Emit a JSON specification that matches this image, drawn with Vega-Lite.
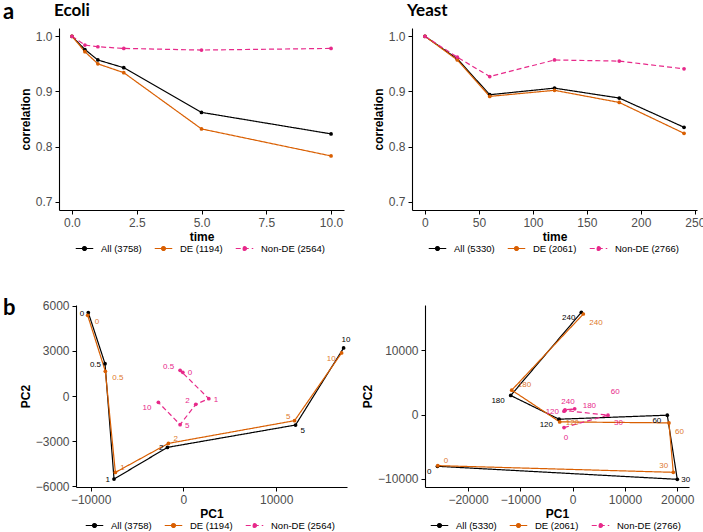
{
  "$schema": "https://vega.github.io/schema/vega-lite/v6.json",
  "padding": {"left": 3, "top": 1, "right": 0, "bottom": 2},
  "datasets": {
    "ecoliCorr": [
      {"series": "All (3758)", "time": 0, "value": 1.0},
      {"series": "All (3758)", "time": 0.5, "value": 0.976},
      {"series": "All (3758)", "time": 1, "value": 0.957},
      {"series": "All (3758)", "time": 2, "value": 0.943},
      {"series": "All (3758)", "time": 5, "value": 0.862},
      {"series": "All (3758)", "time": 10, "value": 0.823},
      {"series": "DE (1194)", "time": 0, "value": 1.0},
      {"series": "DE (1194)", "time": 0.5, "value": 0.972},
      {"series": "DE (1194)", "time": 1, "value": 0.950},
      {"series": "DE (1194)", "time": 2, "value": 0.934},
      {"series": "DE (1194)", "time": 5, "value": 0.832},
      {"series": "DE (1194)", "time": 10, "value": 0.783},
      {"series": "Non-DE (2564)", "time": 0, "value": 1.0},
      {"series": "Non-DE (2564)", "time": 0.5, "value": 0.984},
      {"series": "Non-DE (2564)", "time": 1, "value": 0.981},
      {"series": "Non-DE (2564)", "time": 2, "value": 0.978},
      {"series": "Non-DE (2564)", "time": 5, "value": 0.975},
      {"series": "Non-DE (2564)", "time": 10, "value": 0.978}
    ],
    "yeastCorr": [
      {"series": "All (5330)", "time": 0, "value": 1.0},
      {"series": "All (5330)", "time": 30, "value": 0.959},
      {"series": "All (5330)", "time": 60, "value": 0.894},
      {"series": "All (5330)", "time": 120, "value": 0.906},
      {"series": "All (5330)", "time": 180, "value": 0.888},
      {"series": "All (5330)", "time": 240, "value": 0.835},
      {"series": "DE (2061)", "time": 0, "value": 1.0},
      {"series": "DE (2061)", "time": 30, "value": 0.957},
      {"series": "DE (2061)", "time": 60, "value": 0.891},
      {"series": "DE (2061)", "time": 120, "value": 0.902},
      {"series": "DE (2061)", "time": 180, "value": 0.880},
      {"series": "DE (2061)", "time": 240, "value": 0.824},
      {"series": "Non-DE (2766)", "time": 0, "value": 1.0},
      {"series": "Non-DE (2766)", "time": 30, "value": 0.962},
      {"series": "Non-DE (2766)", "time": 60, "value": 0.927},
      {"series": "Non-DE (2766)", "time": 120, "value": 0.957},
      {"series": "Non-DE (2766)", "time": 180, "value": 0.955},
      {"series": "Non-DE (2766)", "time": 240, "value": 0.941}
    ],
    "ecoliPCA": [
      {"series": "All (3758)", "time": 0, "PC1": -10250, "PC2": 5545},
      {"series": "All (3758)", "time": 0.5, "PC1": -8448, "PC2": 2151},
      {"series": "All (3758)", "time": 1, "PC1": -7477, "PC2": -5523},
      {"series": "All (3758)", "time": 2, "PC1": -1726, "PC2": -3416},
      {"series": "All (3758)", "time": 5, "PC1": 12085, "PC2": -1930},
      {"series": "All (3758)", "time": 10, "PC1": 17264, "PC2": 3194},
      {"series": "DE (1194)", "time": 0, "PC1": -10320, "PC2": 5368},
      {"series": "DE (1194)", "time": 0.5, "PC1": -8413, "PC2": 1641},
      {"series": "DE (1194)", "time": 1, "PC1": -7333, "PC2": -5079},
      {"series": "DE (1194)", "time": 2, "PC1": -1618, "PC2": -3150},
      {"series": "DE (1194)", "time": 5, "PC1": 11977, "PC2": -1641},
      {"series": "DE (1194)", "time": 10, "PC1": 17048, "PC2": 2861},
      {"series": "Non-DE (2564)", "time": 0, "PC1": -65, "PC2": 1575},
      {"series": "Non-DE (2564)", "time": 0.5, "PC1": -356, "PC2": 1708},
      {"series": "Non-DE (2564)", "time": 1, "PC1": 2737, "PC2": -177},
      {"series": "Non-DE (2564)", "time": 2, "PC1": 1334, "PC2": -555},
      {"series": "Non-DE (2564)", "time": 5, "PC1": -356, "PC2": -1907},
      {"series": "Non-DE (2564)", "time": 10, "PC1": -2697, "PC2": -421}
    ],
    "yeastPCA": [
      {"series": "All (5330)", "time": 0, "PC1": -25858, "PC2": -8070},
      {"series": "All (5330)", "time": 30, "PC1": 19999, "PC2": -10104},
      {"series": "All (5330)", "time": 60, "PC1": 18088, "PC2": -104},
      {"series": "All (5330)", "time": 120, "PC1": -2611, "PC2": -729},
      {"series": "All (5330)", "time": 180, "PC1": -11846, "PC2": 2969},
      {"series": "All (5330)", "time": 240, "PC1": 1656, "PC2": 15936},
      {"series": "DE (2061)", "time": 0, "PC1": -25794, "PC2": -7968},
      {"series": "DE (2061)", "time": 30, "PC1": 19234, "PC2": -9010},
      {"series": "DE (2061)", "time": 60, "PC1": 18406, "PC2": -1302},
      {"series": "DE (2061)", "time": 120, "PC1": -2484, "PC2": -1146},
      {"series": "DE (2061)", "time": 180, "PC1": -11655, "PC2": 3802},
      {"series": "DE (2061)", "time": 240, "PC1": 2038, "PC2": 15676},
      {"series": "Non-DE (2766)", "time": 0, "PC1": -1656, "PC2": -2031},
      {"series": "Non-DE (2766)", "time": 30, "PC1": 6751, "PC2": -104},
      {"series": "Non-DE (2766)", "time": 60, "PC1": -1528, "PC2": 625},
      {"series": "Non-DE (2766)", "time": 120, "PC1": -1656, "PC2": 521},
      {"series": "Non-DE (2766)", "time": 180, "PC1": 382, "PC2": 885},
      {"series": "Non-DE (2766)", "time": 240, "PC1": -1465, "PC2": 729}
    ]
  },
  "resolve": {"scale": {"color": "independent", "strokeDash": "independent"}},
  "columns": 2,
  "align": {"row": "each", "column": "none"},
  "spacing": {"row": 44, "column": 3},
  "concat": [
    {
      "data": {"values": []},
      "mark": "point",
      "width": 1, "height": 1,
      "title": {"text": "a", "fontSize": 22, "offset": 3.7}
    },
    {
      "resolve": {"scale": {"color": "independent", "strokeDash": "independent"}},
      "spacing": 28,
      "hconcat": [
        {
          "width": 285, "height": 182,
          "title": {"text": "Ecoli", "dx": -5, "offset": 7.7},
          "data": {"name": "ecoliCorr"},
          "encoding": {
            "x": {"field": "time", "type": "quantitative", "scale": {"domain": [-0.5, 10.5], "nice": false, "zero": false}, "axis": {"values": [0, 2.5, 5, 7.5, 10], "format": ".1f", "title": "time"}},
            "y": {"field": "value", "type": "quantitative", "scale": {"domain": [0.685, 1.015], "nice": false, "zero": false}, "axis": {"values": [0.7, 0.8, 0.9, 1.0], "format": ".1f", "title": "correlation"}},
            "color": {"field": "series", "type": "nominal", "scale": {"domain": ["All (3758)", "DE (1194)", "Non-DE (2564)"], "range": ["#000000", "#D95F02", "#E7298A"]}, "title": null}
          },
          "layer": [
            {"mark": {"type": "line"}, "encoding": {"strokeDash": {"field": "series", "type": "nominal", "scale": {"domain": ["All (3758)", "DE (1194)", "Non-DE (2564)"], "range": [[1, 0], [1, 0], [5, 3]]}, "title": null}}},
            {"mark": {"type": "point"}}
          ]
        },
        {
          "width": 285, "height": 182,
          "title": {"text": "Yeast", "dx": -5, "offset": 7.7},
          "data": {"name": "yeastCorr"},
          "encoding": {
            "x": {"field": "time", "type": "quantitative", "scale": {"domain": [-12, 252], "nice": false, "zero": false}, "axis": {"values": [0, 50, 100, 150, 200, 250], "title": "time"}},
            "y": {"field": "value", "type": "quantitative", "scale": {"domain": [0.685, 1.015], "nice": false, "zero": false}, "axis": {"values": [0.7, 0.8, 0.9, 1.0], "format": ".1f", "title": "correlation"}},
            "color": {"field": "series", "type": "nominal", "scale": {"domain": ["All (5330)", "DE (2061)", "Non-DE (2766)"], "range": ["#000000", "#D95F02", "#E7298A"]}, "title": null}
          },
          "layer": [
            {"mark": {"type": "line"}, "encoding": {"strokeDash": {"field": "series", "type": "nominal", "scale": {"domain": ["All (5330)", "DE (2061)", "Non-DE (2766)"], "range": [[1, 0], [1, 0], [5, 3]]}, "title": null}}},
            {"mark": {"type": "point"}}
          ]
        }
      ]
    },
    {
      "data": {"values": []},
      "mark": "point",
      "width": 1, "height": 1,
      "title": {"text": "b", "fontSize": 22, "offset": -15}
    },
    {
      "resolve": {"scale": {"color": "independent", "strokeDash": "independent"}},
      "spacing": 10,
      "hconcat": [
        {
          "width": 271, "height": 182,
          "data": {"name": "ecoliPCA"},
          "encoding": {
            "x": {"field": "PC1", "type": "quantitative", "scale": {"domain": [-11575, 17630], "nice": false, "zero": false}, "axis": {"values": [-10000, 0, 10000], "format": "d", "title": "PC1"}},
            "y": {"field": "PC2", "type": "quantitative", "scale": {"domain": [-6050, 6050], "nice": false, "zero": false}, "axis": {"values": [-6000, -3000, 0, 3000, 6000], "format": "d", "title": "PC2"}},
            "color": {"field": "series", "type": "nominal", "scale": {"domain": ["All (3758)", "DE (1194)", "Non-DE (2564)"], "range": ["#000000", "#D95F02", "#E7298A"]}, "title": null},
            "text": {"field": "time", "type": "quantitative"}
          },
          "layer": [
            {"mark": {"type": "line"}, "encoding": {"order": {"field": "time", "type": "quantitative"}, "strokeDash": {"field": "series", "type": "nominal", "scale": {"domain": ["All (3758)", "DE (1194)", "Non-DE (2564)"], "range": [[1, 0], [1, 0], [5, 3]]}, "title": null}}},
            {"mark": {"type": "point"}},
            {"transform": [{"filter": "datum.series === 'All (3758)' && datum.time <= 2"}], "mark": {"type": "text", "align": "right", "dx": -4, "dy": 1, "fontSize": 8}},
            {"transform": [{"filter": "datum.series === 'All (3758)' && datum.time === 5"}], "mark": {"type": "text", "align": "left", "dx": 5, "dy": 6, "fontSize": 8}},
            {"transform": [{"filter": "datum.series === 'All (3758)' && datum.time === 10"}], "mark": {"type": "text", "align": "left", "dx": -2, "dy": -8, "fontSize": 8}},
            {"transform": [{"filter": "datum.series === 'DE (1194)' && datum.time <= 0.5"}], "mark": {"type": "text", "align": "left", "dx": 7, "dy": 7, "fontSize": 8, "opacity": 0.85}},
            {"transform": [{"filter": "datum.series === 'DE (1194)' && (datum.time === 1 || datum.time === 2)"}], "mark": {"type": "text", "align": "left", "dx": 5, "dy": -4, "fontSize": 8, "opacity": 0.85}},
            {"transform": [{"filter": "datum.series === 'DE (1194)' && datum.time === 5"}], "mark": {"type": "text", "align": "right", "dx": -4, "dy": -4, "fontSize": 8, "opacity": 0.85}},
            {"transform": [{"filter": "datum.series === 'DE (1194)' && datum.time === 10"}], "mark": {"type": "text", "align": "right", "dx": -6, "dy": 6, "fontSize": 8, "opacity": 0.85}},
            {"transform": [{"filter": "datum.series === 'Non-DE (2564)' && (datum.time === 0.5 || datum.time === 2)"}], "mark": {"type": "text", "align": "right", "dx": -6, "dy": -3, "fontSize": 8}},
            {"transform": [{"filter": "datum.series === 'Non-DE (2564)' && datum.time === 10"}], "mark": {"type": "text", "align": "right", "dx": -7, "dy": 6, "fontSize": 8}},
            {"transform": [{"filter": "datum.series === 'Non-DE (2564)' && (datum.time === 0 || datum.time === 1 || datum.time === 5)"}], "mark": {"type": "text", "align": "left", "dx": 5, "dy": 1, "fontSize": 8}}
          ]
        },
        {
          "width": 264, "height": 182,
          "data": {"name": "yeastPCA"},
          "encoding": {
            "x": {"field": "PC1", "type": "quantitative", "scale": {"domain": [-28240, 22240], "nice": false, "zero": false}, "axis": {"values": [-20000, -10000, 0, 10000, 20000], "format": "d", "title": "PC1"}},
            "y": {"field": "PC2", "type": "quantitative", "scale": {"domain": [-11300, 17080], "nice": false, "zero": false}, "axis": {"values": [-10000, 0, 10000], "format": "d", "title": "PC2"}},
            "color": {"field": "series", "type": "nominal", "scale": {"domain": ["All (5330)", "DE (2061)", "Non-DE (2766)"], "range": ["#000000", "#D95F02", "#E7298A"]}, "title": null},
            "text": {"field": "time", "type": "quantitative"}
          },
          "layer": [
            {"mark": {"type": "line"}, "encoding": {"order": {"field": "time", "type": "quantitative"}, "strokeDash": {"field": "series", "type": "nominal", "scale": {"domain": ["All (5330)", "DE (2061)", "Non-DE (2766)"], "range": [[1, 0], [1, 0], [5, 3]]}, "title": null}}},
            {"mark": {"type": "point"}},
            {"transform": [{"filter": "datum.series === 'All (5330)' && datum.time !== 30"}], "mark": {"type": "text", "align": "right", "dx": -6, "dy": 6, "fontSize": 8}},
            {"transform": [{"filter": "datum.series === 'All (5330)' && datum.time === 30"}], "mark": {"type": "text", "align": "left", "dx": 4, "dy": 1, "fontSize": 8}},
            {"transform": [{"filter": "datum.series === 'DE (2061)' && (datum.time === 0 || datum.time === 180)"}], "mark": {"type": "text", "align": "left", "dx": 6, "dy": -5, "fontSize": 8, "opacity": 0.85}},
            {"transform": [{"filter": "datum.series === 'DE (2061)' && (datum.time === 60 || datum.time === 240)"}], "mark": {"type": "text", "align": "left", "dx": 6, "dy": 9, "fontSize": 8, "opacity": 0.85}},
            {"transform": [{"filter": "datum.series === 'DE (2061)' && datum.time === 120"}], "mark": {"type": "text", "align": "left", "dx": 6, "dy": 1, "fontSize": 8, "opacity": 0.85}},
            {"transform": [{"filter": "datum.series === 'DE (2061)' && datum.time === 30"}], "mark": {"type": "text", "align": "right", "dx": -5, "dy": -6, "fontSize": 8, "opacity": 0.85}},
            {"transform": [{"filter": "datum.series === 'Non-DE (2766)' && datum.time === 0"}], "mark": {"type": "text", "align": "center", "dx": 2, "dy": 10, "fontSize": 8}},
            {"transform": [{"filter": "datum.series === 'Non-DE (2766)' && datum.time === 30"}], "mark": {"type": "text", "align": "left", "dx": 6, "dy": 8, "fontSize": 8}},
            {"transform": [{"filter": "datum.series === 'Non-DE (2766)' && datum.time === 60"}], "mark": {"type": "text", "align": "left", "dx": 46, "dy": -19, "fontSize": 8}},
            {"transform": [{"filter": "datum.series === 'Non-DE (2766)' && datum.time === 120"}], "mark": {"type": "text", "align": "right", "dx": -5, "dy": 1, "fontSize": 8}},
            {"transform": [{"filter": "datum.series === 'Non-DE (2766)' && datum.time === 180"}], "mark": {"type": "text", "align": "left", "dx": 8, "dy": -3, "fontSize": 8}},
            {"transform": [{"filter": "datum.series === 'Non-DE (2766)' && datum.time === 240"}], "mark": {"type": "text", "align": "center", "dx": 3, "dy": -8, "fontSize": 8}}
          ]
        }
      ]
    }
  ],
  "config": {
    "view": {"stroke": null},
    "font": "Liberation Sans",
    "axis": {"grid": false, "domainColor": "#000000", "domainWidth": 1.1, "tickColor": "#000000", "tickSize": 4, "labelColor": "#4D4D4D", "labelFont": "Liberation Sans", "labelFontSize": 12, "labelPadding": 3, "titleFont": "Liberation Sans", "titleFontSize": 12, "titleFontWeight": "bold", "titleColor": "#000000", "titlePadding": 3},
    "legend": {"orient": "bottom", "direction": "horizontal", "offset": 0, "padding": 0, "labelFont": "Liberation Sans", "labelFontSize": 9.5, "labelColor": "#000000", "symbolType": "M-1.6,0H1.6M0.36,0A0.36,0.36,0,1,1,-0.36,0A0.36,0.36,0,1,1,0.36,0Z", "symbolSize": 120, "symbolStrokeWidth": 1.2, "labelOffset": 10, "columnPadding": 10, "layout": {"bottom": {"anchor": "middle"}}},
    "title": {"font": "Lato", "fontWeight": "bold", "fontSize": 17, "anchor": "start", "color": "#000000", "frame": "group", "offset": 4},
    "line": {"strokeWidth": 1.2},
    "point": {"size": 14, "filled": true, "opacity": 1},
    "text": {"font": "Liberation Sans"}
  }
}
